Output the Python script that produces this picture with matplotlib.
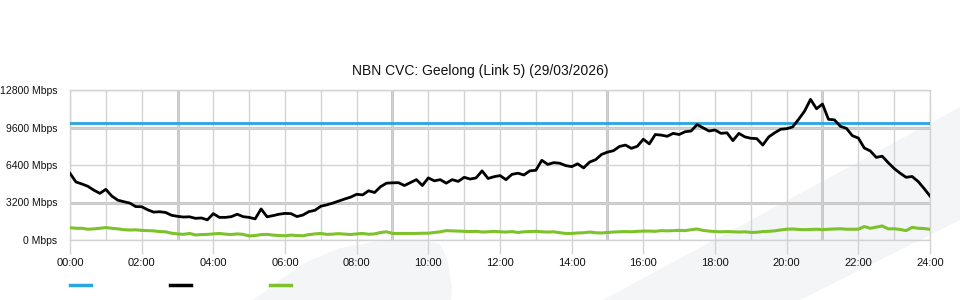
import numpy as np
import matplotlib
matplotlib.use("Agg")
import matplotlib.pyplot as plt
from matplotlib.patches import Polygon
from matplotlib.lines import Line2D

plt.rcParams['font.family'] = ['Liberation Sans', 'DejaVu Sans']

# ---------------- data ----------------
title = "NBN CVC: Geelong (Link 5) (29/03/2026)"
step_hours = 1 / 6  # 10-minute samples

traffic = [
    5690, 4950, 4780, 4580, 4250, 3980,
    4320, 3750, 3400, 3270, 3150, 2850,
    2840, 2580, 2380, 2410, 2350, 2110,
    2020, 1960, 1980, 1850, 1880, 1720,
    2250, 1930, 1930, 1990, 2200, 1990,
    1930, 1800, 2650, 1980, 2080, 2200,
    2270, 2250, 2000, 2130, 2420, 2530,
    2880, 3000, 3150, 3330, 3500, 3660,
    3900, 3850, 4200, 4050, 4550, 4850,
    4880, 4890, 4650, 4900, 5150, 4650,
    5300, 5050, 5150, 4850, 5150, 5000,
    5350, 5200, 5300, 5900, 5250, 5400,
    5500, 5150, 5600, 5700, 5550, 5900,
    5950, 6800, 6450, 6600, 6550, 6350,
    6260, 6500, 6150, 6650, 6850, 7300,
    7500, 7620, 7980, 8100, 7820, 8000,
    8600, 8200, 9000, 8950, 8850, 9100,
    9000, 9240, 9300, 9850, 9570, 9300,
    9390, 9100, 9150, 8480, 9100, 8800,
    8680, 8650, 8100, 8800, 9150, 9450,
    9500, 9650, 10300, 11000, 12000, 11200,
    11600, 10300, 10250, 9700, 9530, 8900,
    8700, 7850, 7600, 7050, 7150, 6600,
    6100, 5700, 5350, 5420, 5000, 4400,
    3750,
]

outbound = [
    1050, 1000, 1000, 920, 950, 1000,
    1060, 1000, 950, 880, 850, 870,
    820, 800, 780, 720, 700, 580,
    520, 480, 560, 430, 460, 480,
    520, 560, 500, 470, 520, 480,
    350, 380, 460, 480, 420, 380,
    360, 420, 380, 360, 460, 520,
    560, 480, 500, 540, 500, 470,
    520, 560, 490, 520, 640, 700,
    560, 560, 560, 560, 560, 580,
    580, 640, 700, 800, 780, 760,
    740, 720, 740, 680, 700, 740,
    700, 680, 720, 640, 700, 720,
    740, 700, 680, 700, 620, 560,
    560, 600, 620, 680, 620, 600,
    640, 680, 700, 720, 700, 740,
    760, 760, 740, 800, 780, 800,
    820, 800, 880, 940, 820, 760,
    720, 700, 720, 700, 680, 700,
    650, 660, 720, 740, 780, 860,
    920, 940, 900, 880, 900, 920,
    880, 920, 940, 960, 920, 920,
    920, 1150, 1000, 1100, 1200, 950,
    960, 900, 800, 1080, 1000, 980,
    910,
]

capacity = 10000

y_ticks = [0, 3200, 6400, 9600, 12800]
y_labels = [f"{v} Mbps" for v in y_ticks]
y_strong = [3200, 9600]
x_ticks = list(range(0, 25, 2))
x_labels = [f"{h:02d}:00" for h in x_ticks]
x_minor = list(range(1, 24, 2))
x_strong = [3, 9, 15, 21]

blue = "#27a6e0"
green = "#7dc22b"
black = "#000000"
grid_light = "#d2d2d2"
grid_dark = "#c0c0c0"
deco = "#f4f5f7"

# ---------------- figure ----------------
W, H = 960, 300
fig = plt.figure(figsize=(W / 100, H / 100), dpi=100)
fig.patch.set_facecolor("white")


def fpx(pts):
    return [(x / W, 1 - y / H) for x, y in pts]


# decorative background shapes
band = Polygon(fpx([(603, 300), (960, 107), (960, 220), (800, 300)]),
               closed=True, transform=fig.transFigure,
               facecolor=deco, edgecolor="none", zorder=0)
fig.add_artist(band)
card = Polygon(fpx([(253, 300), (280, 280), (307, 262), (340, 248), (373, 242),
                    (397, 241), (425, 241), (440, 244), (447, 258), (452, 287),
                    (451, 300)]),
               closed=True, transform=fig.transFigure,
               facecolor=deco, edgecolor="none", zorder=0)
fig.add_artist(card)

ax = fig.add_axes([70 / W, 60 / H, 860 / W, 150 / H])
ax.set_facecolor("none")
ax.set_zorder(1)

times = np.arange(len(traffic)) * step_hours
cap_series = np.full_like(times, capacity, dtype=float)

ax.set_xlim(0, 24)
ax.set_ylim(0, 12800)
ax.set_xticks(x_ticks)
ax.set_xticklabels(x_labels)
ax.set_xticks(x_minor, minor=True)
ax.set_yticks(y_ticks)
ax.set_yticklabels(y_labels)
for t in ax.get_yticklabels():
    t.set_y(t.get_position()[1])
    t.set_va("center_baseline")

ax.grid(True, which="both", color=grid_light, linewidth=1, zorder=1)
for h in x_strong:
    ax.axvline(h, color=grid_dark, linewidth=2, zorder=1.2)
for v in y_strong:
    ax.axhline(v, color=grid_dark, linewidth=2, zorder=1.2)

for s in ax.spines.values():
    s.set_color(grid_light)
    s.set_linewidth(1)

ax.tick_params(axis="x", which="major", length=10, width=1, color=grid_light,
               pad=3, labelsize=8, labelcolor="#111111")
ax.tick_params(axis="x", which="minor", length=0)
ax.tick_params(axis="y", length=0, pad=9, labelsize=7.5, labelcolor="#111111")

ax.plot(times, outbound, color=green, linewidth=2.2, zorder=3)
ax.plot(times, cap_series, color=blue, linewidth=2, zorder=3)
ax.plot(times, traffic, color=black, linewidth=2, zorder=4)

fig.text(0.5, 1 - 71 / H, title, ha="center", va="center", fontsize=10,
         color="#111111")

# legend swatches (no labels)
for x0, c in [(70, blue), (170, black), (270, green)]:
    fig.add_artist(Line2D([x0 / W, (x0 + 21) / W], [1 - 285 / H] * 2,
                          color=c, linewidth=2.5, transform=fig.transFigure))

fig.savefig("out.png", dpi=100)
